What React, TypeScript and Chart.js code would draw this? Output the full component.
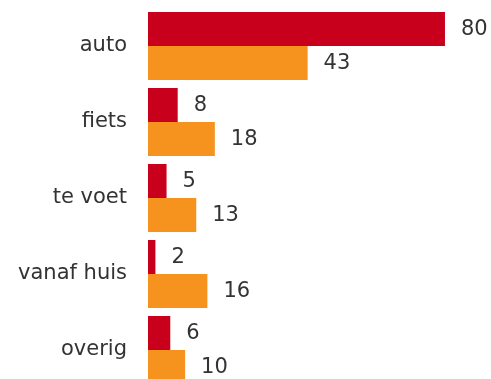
import React, { useEffect, useRef } from "react";
import { Chart, registerables } from "chart.js";

Chart.register(...registerables);

const categories = ["auto", "fiets", "te voet", "vanaf huis", "overig"];
const seriesA = [80, 8, 5, 2, 6];
const seriesB = [43, 18, 13, 16, 10];
const seriesNames = ["A", "B"];

const RED = "#c8001b";
const ORANGE = "#f6921e";
const TEXT = "#333333";
const FONT = "'DejaVu Sans', Verdana, sans-serif";

const valueLabels = {
  id: "valueLabels",
  afterDatasetsDraw(chart: any) {
    const ctx = chart.ctx;
    ctx.save();
    ctx.fillStyle = TEXT;
    ctx.font = `21px ${FONT}`;
    ctx.textAlign = "left";
    ctx.textBaseline = "middle";
    chart.data.datasets.forEach((ds: any, i: number) => {
      const meta = chart.getDatasetMeta(i);
      meta.data.forEach((bar: any, j: number) => {
        ctx.fillText(String(ds.data[j]), bar.x + 16, bar.y + 1);
      });
    });
    ctx.restore();
  },
};

export default function App() {
  const ref = useRef<HTMLCanvasElement>(null);
  useEffect(() => {
    if (!ref.current) return;
    const chart = new Chart(ref.current, {
      type: "bar",
      data: {
        labels: categories,
        datasets: [
          { label: seriesNames[0], data: seriesA, backgroundColor: RED, barPercentage: 1, categoryPercentage: 0.895 },
          { label: seriesNames[1], data: seriesB, backgroundColor: ORANGE, barPercentage: 1, categoryPercentage: 0.895 },
        ],
      },
      options: {
        indexAxis: "y",
        responsive: false,
        animation: false,
        devicePixelRatio: 1,
        layout: { padding: { top: 8, right: 0, bottom: 0, left: 0 } },
        plugins: { legend: { display: false }, tooltip: { enabled: false } },
        scales: {
          x: { display: false, min: 0, max: 92.4 },
          y: {
            grid: { display: false, drawTicks: false },
            border: { display: false },
            ticks: { color: TEXT, font: { family: FONT, size: 21 }, padding: 21 },
            afterFit(scale: any) {
              scale.width = 148;
              scale.paddingTop = 0;
              scale.paddingBottom = 0;
            },
          },
        },
      },
      plugins: [valueLabels],
    });
    return () => chart.destroy();
  }, []);
  return (
    <div style={{ position: "fixed", left: 0, top: 0, width: 491, height: 379, overflow: "hidden", background: "#fff" }}>
      <canvas ref={ref} width={491} height={388} style={{ display: "block" }} />
    </div>
  );
}
